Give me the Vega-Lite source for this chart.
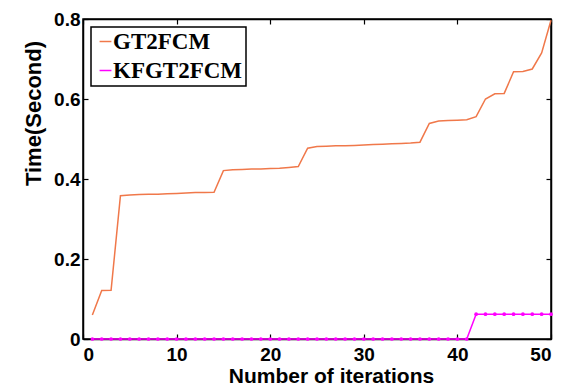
{
  "$schema": "https://vega.github.io/schema/vega-lite/v6.json",
  "width": 468,
  "height": 320,
  "autosize": {"type": "none"},
  "padding": {"left": 83, "top": 19, "right": 19, "bottom": 46},
  "background": "white",
  "config": {
    "view": {"stroke": "black", "strokeWidth": 1.5},
    "axis": {
      "labelFont": "Liberation Sans", "labelFontWeight": "bold", "labelFontSize": 19, "labelColor": "black",
      "titleFont": "Liberation Sans", "titleFontWeight": "bold", "titleFontSize": 21, "titleColor": "black",
      "grid": false, "domainColor": "black", "domainWidth": 1.5, "tickColor": "black", "tickWidth": 1.2
    }
  },
  "data": {"values": [
    {"x":1,"s":"GT2FCM","t":0.06},{"x":2,"s":"GT2FCM","t":0.121},{"x":3,"s":"GT2FCM","t":0.122},{"x":4,"s":"GT2FCM","t":0.358},
    {"x":5,"s":"GT2FCM","t":0.360},{"x":6,"s":"GT2FCM","t":0.361},{"x":7,"s":"GT2FCM","t":0.362},{"x":8,"s":"GT2FCM","t":0.362},
    {"x":9,"s":"GT2FCM","t":0.363},{"x":10,"s":"GT2FCM","t":0.364},{"x":11,"s":"GT2FCM","t":0.365},{"x":12,"s":"GT2FCM","t":0.366},
    {"x":13,"s":"GT2FCM","t":0.366},{"x":14,"s":"GT2FCM","t":0.367},{"x":15,"s":"GT2FCM","t":0.421},{"x":16,"s":"GT2FCM","t":0.423},
    {"x":17,"s":"GT2FCM","t":0.424},{"x":18,"s":"GT2FCM","t":0.425},{"x":19,"s":"GT2FCM","t":0.425},{"x":20,"s":"GT2FCM","t":0.426},
    {"x":21,"s":"GT2FCM","t":0.427},{"x":22,"s":"GT2FCM","t":0.429},{"x":23,"s":"GT2FCM","t":0.431},{"x":24,"s":"GT2FCM","t":0.477},
    {"x":25,"s":"GT2FCM","t":0.481},{"x":26,"s":"GT2FCM","t":0.482},{"x":27,"s":"GT2FCM","t":0.483},{"x":28,"s":"GT2FCM","t":0.483},
    {"x":29,"s":"GT2FCM","t":0.484},{"x":30,"s":"GT2FCM","t":0.485},{"x":31,"s":"GT2FCM","t":0.486},{"x":32,"s":"GT2FCM","t":0.487},
    {"x":33,"s":"GT2FCM","t":0.488},{"x":34,"s":"GT2FCM","t":0.489},{"x":35,"s":"GT2FCM","t":0.490},{"x":36,"s":"GT2FCM","t":0.492},
    {"x":37,"s":"GT2FCM","t":0.539},{"x":38,"s":"GT2FCM","t":0.545},{"x":39,"s":"GT2FCM","t":0.546},{"x":40,"s":"GT2FCM","t":0.547},
    {"x":41,"s":"GT2FCM","t":0.548},{"x":42,"s":"GT2FCM","t":0.556},{"x":43,"s":"GT2FCM","t":0.600},{"x":44,"s":"GT2FCM","t":0.613},
    {"x":45,"s":"GT2FCM","t":0.614},{"x":46,"s":"GT2FCM","t":0.668},{"x":47,"s":"GT2FCM","t":0.669},{"x":48,"s":"GT2FCM","t":0.675},
    {"x":49,"s":"GT2FCM","t":0.715},{"x":50,"s":"GT2FCM","t":0.797},
    {"x":1,"s":"KFGT2FCM","t":0},{"x":2,"s":"KFGT2FCM","t":0},{"x":3,"s":"KFGT2FCM","t":0},{"x":4,"s":"KFGT2FCM","t":0},
    {"x":5,"s":"KFGT2FCM","t":0},{"x":6,"s":"KFGT2FCM","t":0},{"x":7,"s":"KFGT2FCM","t":0},{"x":8,"s":"KFGT2FCM","t":0},
    {"x":9,"s":"KFGT2FCM","t":0},{"x":10,"s":"KFGT2FCM","t":0},{"x":11,"s":"KFGT2FCM","t":0},{"x":12,"s":"KFGT2FCM","t":0},
    {"x":13,"s":"KFGT2FCM","t":0},{"x":14,"s":"KFGT2FCM","t":0},{"x":15,"s":"KFGT2FCM","t":0},{"x":16,"s":"KFGT2FCM","t":0},
    {"x":17,"s":"KFGT2FCM","t":0},{"x":18,"s":"KFGT2FCM","t":0},{"x":19,"s":"KFGT2FCM","t":0},{"x":20,"s":"KFGT2FCM","t":0},
    {"x":21,"s":"KFGT2FCM","t":0},{"x":22,"s":"KFGT2FCM","t":0},{"x":23,"s":"KFGT2FCM","t":0},{"x":24,"s":"KFGT2FCM","t":0},
    {"x":25,"s":"KFGT2FCM","t":0},{"x":26,"s":"KFGT2FCM","t":0},{"x":27,"s":"KFGT2FCM","t":0},{"x":28,"s":"KFGT2FCM","t":0},
    {"x":29,"s":"KFGT2FCM","t":0},{"x":30,"s":"KFGT2FCM","t":0},{"x":31,"s":"KFGT2FCM","t":0},{"x":32,"s":"KFGT2FCM","t":0},
    {"x":33,"s":"KFGT2FCM","t":0},{"x":34,"s":"KFGT2FCM","t":0},{"x":35,"s":"KFGT2FCM","t":0},{"x":36,"s":"KFGT2FCM","t":0},
    {"x":37,"s":"KFGT2FCM","t":0},{"x":38,"s":"KFGT2FCM","t":0},{"x":39,"s":"KFGT2FCM","t":0},{"x":40,"s":"KFGT2FCM","t":0},
    {"x":41,"s":"KFGT2FCM","t":0},{"x":42,"s":"KFGT2FCM","t":0.062},{"x":43,"s":"KFGT2FCM","t":0.062},{"x":44,"s":"KFGT2FCM","t":0.062},
    {"x":45,"s":"KFGT2FCM","t":0.062},{"x":46,"s":"KFGT2FCM","t":0.062},{"x":47,"s":"KFGT2FCM","t":0.062},{"x":48,"s":"KFGT2FCM","t":0.062},
    {"x":49,"s":"KFGT2FCM","t":0.062},{"x":50,"s":"KFGT2FCM","t":0.062}
  ]},
  "layer": [
    {
      "mark": {"type": "line", "strokeWidth": 1.5, "clip": false},
      "encoding": {
        "x": {"field": "x", "type": "quantitative", "scale": {"domain": [0, 50], "nice": false},
              "axis": {"values": [0,10,20,30,40,50], "tickSize": -5, "labelPadding": 11, "title": "Number of iterations",
                       "titleBaseline": "alphabetic", "titleY": 43, "titleX": 248, "format": "d"}},
        "y": {"field": "t", "type": "quantitative", "scale": {"domain": [0, 0.8], "nice": false},
              "axis": {"values": [0,0.2,0.4,0.6,0.8], "tickSize": -5, "labelPadding": 8, "title": "Time(Second)",
                       "titleFontSize": 22, "titleBaseline": "alphabetic", "titleY": 94, "titleX": -43, "format": "~g"}},
        "color": {"field": "s", "type": "nominal",
                  "scale": {"domain": ["GT2FCM", "KFGT2FCM"], "range": ["#F0784A", "#FF00FF"]},
                  "legend": {"title": null, "orient": "none", "legendX": 8, "legendY": 8,
                             "strokeColor": "black", "fillColor": "white",
                             "padding": 3, "symbolType": "stroke", "symbolSize": 140, "symbolStrokeWidth": 1.5,
                             "labelFont": "Liberation Serif", "labelFontWeight": "bold", "labelFontSize": 23,
                             "labelColor": "black", "labelOffset": -4, "rowPadding": 5, "symbolOffset": 0,
                             "encode": {"legend": {"update": {"strokeWidth": {"value": 1.5}}}}}}
      }
    },
    {
      "transform": [{"filter": "datum.s === 'KFGT2FCM'"}],
      "mark": {"type": "point", "filled": true, "size": 14, "color": "#FF00FF", "opacity": 1, "clip": false},
      "encoding": {
        "x": {"field": "x", "type": "quantitative", "scale": {"domain": [0, 50], "nice": false},
              "axis": {"orient": "top", "values": [0,10,20,30,40,50], "labels": false, "tickSize": -5, "title": null}},
        "y": {"field": "t", "type": "quantitative", "scale": {"domain": [0, 0.8], "nice": false},
              "axis": {"orient": "right", "values": [0,0.2,0.4,0.6,0.8], "labels": false, "tickSize": -5, "title": null}}
      }
    }
  ],
  "resolve": {"axis": {"x": "independent", "y": "independent"}}
}
